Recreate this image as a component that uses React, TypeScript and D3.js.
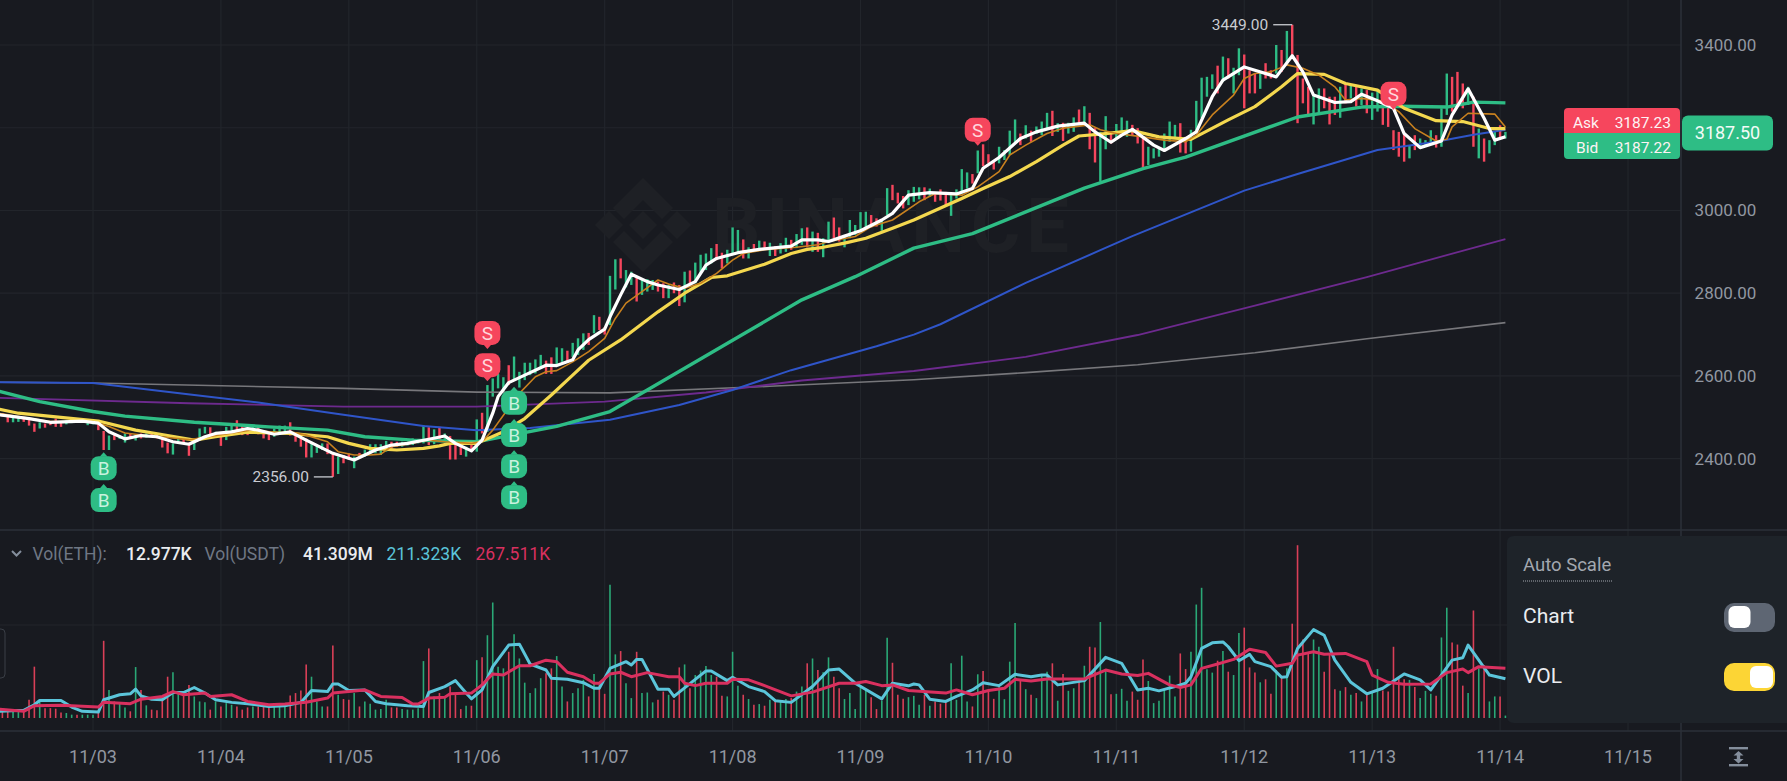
import { useEffect, useRef } from 'react';
import * as d3 from 'd3';

const WIDTH = 1787;
const HEIGHT = 781;
const FONT = 'Roboto, sans-serif';

const bg = '#181a20';
const gridColor = '#22252b';
const up = '#2ebd85';
const down = '#f6465d';

const priceTicks = [2400, 2600, 2800, 3000, 3200, 3400];
const dayLabels = ['11/03', '11/04', '11/05', '11/06', '11/07', '11/08', '11/09', '11/10', '11/11', '11/12', '11/13', '11/14', '11/15'];

// one bar per hour, hour 0 = 11/03 00:00, first bar is hour -17
const firstHour = -17;
const barHigh = [
  2510,2504,2502,2499,2498,2496,2485,2488,2485,2489,
  2497,2488,2493,2496,2496,2496,2489,2491,2485,2467,
  2456,2461,2457,2461,2461,2459,2461,2461,2463,2459,
  2449,2439,2437,2453,2451,2439,2445,2473,2477,2476,
  2465,2453,2477,2485,2493,2480,2473,2481,2480,2469,
  2465,2473,2480,2480,2488,2464,2457,2449,2441,2433,
  2437,2437,2411,2405,2409,2413,2405,2414,2422,2435,
  2435,2435,2443,2441,2441,2441,2441,2449,2445,2481,
  2476,2471,2477,2461,2455,2437,2433,2429,2437,2495,
  2511,2578,2594,2606,2597,2626,2647,2610,2632,2632,
  2640,2651,2637,2645,2669,2667,2661,2680,2691,2703,
  2704,2747,2743,2718,2842,2882,2884,2856,2852,2840,
  2834,2834,2832,2828,2824,2820,2826,2820,2852,2855,
  2874,2893,2896,2909,2919,2898,2905,2959,2953,2930,
  2911,2919,2927,2925,2922,2914,2921,2934,2929,2943,
  2957,2959,2949,2946,2933,2973,2983,2959,2941,2977,
  2965,2996,2997,2989,2981,2977,3054,3062,3043,3035,
  3049,3057,3056,3056,3053,3045,3051,3045,3041,3051,
  3100,3092,3088,3145,3160,3136,3122,3154,3146,3193,
  3220,3186,3206,3193,3203,3215,3236,3241,3211,3212,
  3212,3225,3244,3252,3236,3199,3190,3228,3190,3209,
  3225,3217,3207,3199,3180,3154,3150,3150,3186,3215,
  3207,3211,3178,3195,3265,3321,3323,3329,3350,3372,
  3368,3345,3392,3377,3339,3331,3335,3356,3339,3400,
  3388,3434,3449,3376,3319,3299,3279,3295,3295,3275,
  3275,3299,3307,3303,3299,3295,3291,3285,3291,3255,
  3251,3194,3190,3186,3158,3182,3174,3170,3194,3182,
  3247,3331,3323,3335,3307,3299,3275,3198,3174,3170,
  3190,3206,3190,
];
const barLow = [
  2502,2488,2488,2489,2489,2480,2465,2473,2475,2481,
  2477,2477,2483,2486,2488,2488,2481,2483,2469,2421,
  2421,2445,2448,2439,2449,2444,2449,2451,2453,2449,
  2427,2413,2410,2441,2437,2407,2421,2449,2461,2457,
  2453,2431,2445,2461,2469,2457,2457,2461,2459,2449,
  2445,2453,2459,2461,2456,2441,2429,2403,2403,2414,
  2421,2411,2356,2363,2389,2397,2377,2401,2405,2411,
  2413,2409,2417,2425,2429,2429,2432,2433,2437,2437,
  2433,2435,2441,2441,2398,2398,2409,2405,2417,2417,
  2461,2465,2550,2570,2558,2578,2590,2572,2590,2602,
  2606,2618,2605,2605,2624,2634,2632,2646,2651,2663,
  2675,2703,2711,2700,2723,2809,2836,2814,2820,2780,
  2796,2804,2808,2804,2788,2788,2800,2769,2778,2824,
  2824,2848,2856,2872,2880,2860,2872,2896,2896,2884,
  2884,2905,2905,2905,2890,2890,2896,2900,2905,2909,
  2917,2911,2900,2900,2887,2925,2933,2925,2911,2933,
  2941,2953,2959,2959,2961,2951,2989,3025,3017,3005,
  3013,3021,3027,3025,3033,3021,3024,3013,2987,3029,
  3041,3053,3065,3090,3107,3114,3099,3114,3122,3134,
  3162,3158,3174,3166,3185,3182,3194,3180,3190,3168,
  3186,3190,3207,3211,3148,3116,3070,3148,3162,3172,
  3190,3178,3182,3162,3104,3110,3126,3130,3150,3166,
  3174,3140,3138,3142,3190,3223,3275,3294,3283,3311,
  3319,3283,3327,3247,3283,3283,3294,3319,3319,3331,
  3335,3352,3376,3211,3259,3231,3208,3231,3247,3208,
  3231,3224,3259,3271,3251,3255,3235,3219,3239,3207,
  3202,3146,3130,3118,3126,3146,3150,3154,3162,3152,
  3154,3231,3239,3255,3247,3255,3154,3126,3118,3138,
  3158,3174,3174,
];
// u = green, d = red
const barDir = [
  'dduudddudd','dduuduuudd','uduudududd','dduudduuud',
  'uduudddudd','duuudddduu','uddudduduu','uuudduuuuu',
  'dududddudu','duuuuduuuu','uudduuduuu','dudduuduud',
  'uuudduddud','uuuudduuud','udududuudu','ududuudduu',
  'uuudduuddd','uuududdduu','uududdduuu','ududuuudud',
  'uududduudu','uuddduuuuu','udduuuuudu','duuddduddu',
  'dudddduudd','dudududuud','dddduduuud','uudddududu','udu',
].join('');
// thousands
const barVolume = [
  36,45,36,36,41,98,276,89,53,53,
  50,30,27,18,18,18,18,18,27,415,
  151,89,84,57,36,274,151,68,45,41,
  116,222,246,134,119,178,116,89,85,45,
  89,62,80,71,62,45,57,62,62,66,
  58,62,60,64,121,134,148,288,222,89,
  62,62,390,125,102,98,134,62,89,77,
  45,48,98,57,57,48,45,45,53,306,
  374,116,134,116,169,125,48,66,66,311,
  326,445,621,276,267,356,450,320,190,134,
  160,214,240,267,333,169,89,134,160,205,
  116,237,180,130,716,342,360,187,107,356,
  134,137,84,98,142,125,98,272,288,160,
  231,255,280,231,222,119,116,356,174,125,
  102,71,75,66,98,89,89,102,107,142,
  169,294,320,258,246,326,222,160,102,134,
  48,169,151,112,48,93,431,297,125,103,
  112,119,71,125,66,89,77,89,294,98,
  335,89,62,235,253,151,103,178,101,303,
  511,205,155,125,107,231,249,294,93,237,
  146,160,205,281,383,379,516,258,128,130,
  157,93,142,98,315,199,80,93,151,228,
  116,347,263,356,610,700,262,244,308,360,
  249,231,457,486,272,244,192,208,130,258,
  222,267,507,929,422,347,422,383,249,347,
  155,146,166,125,134,89,130,134,263,148,
  142,383,214,208,205,166,107,146,130,119,
  433,593,406,395,174,134,578,267,285,89,
  116,116,13,
];

type Pt = [number, number];

const maWhite: Pt[] = [[-18,2507],[-12,2497],[-8,2488],[-2,2491],[1,2486],[3,2465],[6,2448],[9,2456],[12,2453],[15,2441],[18,2435],[21,2453],[23,2461],[26,2465],[29,2473],[31,2469],[34,2459],[37,2465],[40,2445],[45,2413],[49,2397],[53,2421],[56,2433],[59,2437],[63,2447],[66,2455],[68,2437],[71,2419],[73,2445],[75,2510],[76,2550],[78,2584],[81,2602],[85,2626],[87,2625],[90,2639],[91,2663],[93,2688],[96,2713],[97,2743],[99,2796],[101,2846],[104,2828],[106,2820],[110,2809],[113,2828],[115,2868],[117,2884],[121,2898],[125,2906],[131,2914],[133,2929],[136,2929],[138,2925],[141,2938],[144,2951],[148,2977],[150,2993],[153,3037],[157,3043],[162,3040],[165,3053],[167,3102],[170,3128],[174,3174],[177,3190],[181,3204],[186,3211],[188,3190],[191,3165],[193,3182],[195,3196],[199,3158],[201,3145],[205,3174],[207,3190],[210,3275],[212,3315],[216,3347],[218,3339],[222,3323],[225,3374],[227,3335],[229,3279],[233,3261],[236,3263],[238,3281],[241,3265],[244,3247],[246,3186],[249,3152],[253,3168],[255,3231],[258,3294],[261,3223],[263,3170],[265,3178]];
const maOrange: Pt[] = [[-18,2510],[-8,2490],[0,2490],[3,2478],[6,2462],[10,2456],[15,2450],[18,2446],[21,2452],[25,2460],[30,2470],[35,2462],[37,2465],[40,2457],[44,2441],[46,2417],[49,2409],[52,2409],[54,2411],[56,2429],[59,2435],[63,2445],[66,2441],[71,2437],[73,2441],[75,2469],[77,2505],[80,2558],[83,2598],[85,2610],[87,2613],[90,2634],[93,2659],[96,2691],[98,2739],[100,2776],[103,2804],[106,2832],[108,2822],[111,2812],[114,2824],[117,2848],[120,2880],[122,2896],[126,2905],[132,2911],[136,2917],[138,2925],[143,2937],[146,2961],[150,2977],[155,3021],[158,3041],[163,3037],[166,3057],[170,3094],[172,3134],[175,3158],[179,3186],[182,3199],[187,3207],[189,3195],[192,3186],[197,3178],[201,3170],[205,3166],[207,3182],[210,3231],[214,3279],[216,3319],[218,3331],[221,3335],[224,3352],[227,3344],[230,3327],[233,3299],[235,3267],[238,3271],[242,3265],[245,3239],[248,3198],[252,3168],[254,3172],[255,3202],[258,3235],[263,3233],[265,3202]];
const maYellow: Pt[] = [[-18,2521],[-14,2510],[1,2491],[8,2469],[14,2456],[19,2445],[23,2453],[29,2464],[37,2461],[44,2453],[48,2437],[52,2425],[57,2421],[62,2425],[65,2431],[67,2437],[72,2437],[77,2465],[81,2497],[86,2554],[90,2602],[93,2638],[99,2687],[106,2755],[111,2800],[116,2838],[119,2842],[126,2870],[131,2896],[134,2906],[137,2911],[141,2921],[145,2933],[150,2957],[154,2977],[163,3029],[167,3053],[172,3082],[177,3118],[182,3158],[185,3180],[190,3186],[195,3193],[200,3178],[206,3172],[213,3219],[218,3251],[223,3299],[226,3331],[231,3329],[235,3307],[241,3291],[246,3247],[252,3217],[257,3215],[262,3198],[265,3198]];
const maGreen: Pt[] = [[-18,2564],[-10,2538],[0,2514],[6,2503],[19,2488],[33,2477],[44,2469],[51,2453],[60,2445],[72,2441],[87,2478],[97,2514],[104,2566],[118,2671],[133,2784],[143,2840],[154,2909],[165,2944],[186,3054],[197,3101],[205,3129],[226,3226],[238,3250],[245,3252],[254,3250],[259,3262],[265,3260]];
const maBlue: Pt[] = [[-18,2585],[0,2583],[19,2554],[31,2536],[47,2506],[62,2479],[72,2469],[82,2474],[97,2494],[110,2530],[120,2566],[131,2614],[147,2672],[154,2700],[159,2725],[175,2825],[189,2904],[195,2938],[216,3048],[226,3088],[241,3146],[252,3166],[259,3183],[265,3195]];
const maPurple: Pt[] = [[-18,2547],[18,2534],[47,2526],[72,2526],[96,2538],[115,2560],[133,2589],[154,2612],[175,2646],[196,2699],[218,2770],[239,2839],[265,2931]];
const maGrey: Pt[] = [[-18,2585],[0,2583],[47,2570],[72,2561],[97,2559],[127,2575],[154,2591],[175,2608],[196,2627],[218,2656],[239,2690],[265,2729]];

const volMaCyan: Pt[] = [[-18,36],[-13,41],[-11,71],[-10,94],[-6,94],[-4,59],[-2,36],[1,32],[2,98],[5,125],[7,130],[8,155],[9,119],[11,101],[13,98],[15,137],[17,137],[19,164],[21,134],[23,98],[26,84],[29,77],[33,62],[36,66],[39,84],[41,148],[44,142],[45,183],[46,183],[48,148],[51,151],[53,89],[55,77],[59,66],[62,62],[63,137],[66,169],[68,201],[70,134],[71,103],[73,151],[75,276],[78,392],[80,397],[82,290],[85,258],[86,214],[89,208],[92,190],[94,160],[95,160],[97,267],[100,303],[101,285],[102,315],[103,315],[106,155],[108,155],[109,116],[115,253],[116,253],[119,201],[120,219],[123,169],[126,142],[128,93],[131,84],[135,169],[138,258],[140,263],[143,187],[148,103],[150,187],[153,173],[154,183],[155,178],[157,101],[160,89],[162,116],[165,151],[167,190],[170,174],[173,235],[176,222],[178,231],[179,231],[181,178],[186,201],[190,326],[193,294],[196,151],[198,160],[200,146],[203,169],[205,187],[206,222],[208,374],[210,404],[212,409],[213,383],[215,308],[217,342],[218,303],[221,276],[223,219],[224,222],[226,374],[229,475],[231,445],[233,311],[236,192],[239,130],[242,160],[246,237],[249,205],[251,151],[255,311],[257,324],[258,392],[262,231],[265,211]];
const volMaPink: Pt[] = [[-18,48],[-13,36],[-11,66],[-6,68],[1,59],[2,85],[7,77],[9,101],[13,116],[15,142],[17,125],[21,134],[22,116],[26,125],[29,89],[33,71],[36,75],[40,85],[44,107],[45,134],[51,151],[54,116],[58,110],[60,75],[61,75],[63,107],[66,112],[67,130],[71,134],[73,178],[75,237],[77,231],[80,281],[82,281],[85,311],[87,303],[89,246],[92,222],[94,187],[95,187],[97,237],[99,246],[101,222],[104,244],[108,222],[110,222],[111,187],[113,174],[115,187],[119,187],[120,208],[123,205],[126,174],[131,119],[135,139],[140,187],[143,187],[145,196],[148,174],[150,178],[153,148],[160,134],[162,151],[165,125],[168,148],[171,160],[173,208],[176,199],[179,210],[186,210],[190,258],[193,237],[196,228],[198,240],[202,178],[204,164],[206,178],[208,267],[211,290],[214,315],[217,370],[220,352],[222,279],[225,294],[226,338],[229,356],[231,343],[235,347],[239,303],[240,231],[243,192],[246,181],[251,183],[254,244],[257,263],[258,244],[260,276],[265,268]];

const priceLines = [
  { pts: maGrey, color: '#77777b', w: 1.6 },
  { pts: maPurple, color: '#6d2a8e', w: 1.8 },
  { pts: maBlue, color: '#2f55c9', w: 2 },
  { pts: maGreen, color: '#2ebd85', w: 3.4 },
  { pts: maYellow, color: '#f4d84f', w: 3.2 },
  { pts: maOrange, color: '#c8811f', w: 1.6 },
  { pts: maWhite, color: '#ffffff', w: 3.2 },
];

const buyMarks = [[2, 2377], [2, 2300], [79, 2535], [79, 2457], [79, 2382], [79, 2307]];
const sellMarks = [[74, 2704], [74, 2626], [166, 3195], [244, 3282]];

function App() {
  const svgRef = useRef<SVGSVGElement>(null);

  useEffect(() => {
    if (svgRef.current === null) return;
    const svg = d3.select(svgRef.current);
    svg.selectAll('*').remove();

    const x = d3.scaleLinear().domain([0, 288]).range([93, 1628]);
    const y = d3.scaleLinear().domain([2400, 3400]).range([458.7, 45]);
    const yVol = d3.scaleLinear().domain([0, 500]).range([718, 625]);

    svg.append('rect').attr('width', WIDTH).attr('height', HEIGHT).attr('fill', bg);

    // grid
    const grid = svg.append('g').attr('stroke', gridColor).attr('stroke-width', 1.2);
    priceTicks.forEach((p) => {
      grid.append('line').attr('x1', 0).attr('x2', 1681).attr('y1', y(p)).attr('y2', y(p));
    });
    grid.append('line').attr('x1', 0).attr('x2', 1681).attr('y1', yVol(500)).attr('y2', yVol(500));
    dayLabels.forEach((_, i) => {
      const gx = x(i * 24);
      grid.append('line').attr('x1', gx).attr('x2', gx).attr('y1', 0).attr('y2', 731);
    });

    // watermark
    const wm = svg.append('g').attr('fill', '#1e2025');
    const cx = 643;
    const cy = 225;
    const diamond = (dx: number, dy: number, r: number) =>
      `M${cx + dx - r},${cy + dy}L${cx + dx},${cy + dy - r}L${cx + dx + r},${cy + dy}L${cx + dx},${cy + dy + r}Z`;
    wm.append('path').attr('d', diamond(0, 0, 14));
    wm.append('path').attr('d', diamond(-34, 0, 14));
    wm.append('path').attr('d', diamond(34, 0, 14));
    wm.append('path').attr('d', `M${cx},${cy - 47}L${cx + 30},${cy - 17}L${cx + 19},${cy - 6}L${cx},${cy - 25}L${cx - 19},${cy - 6}L${cx - 30},${cy - 17}Z`);
    wm.append('path').attr('d', `M${cx},${cy + 47}L${cx + 30},${cy + 17}L${cx + 19},${cy + 6}L${cx},${cy + 25}L${cx - 19},${cy + 6}L${cx - 30},${cy + 17}Z`);
    wm.append('text').attr('x', 712).attr('y', 252).attr('font-family', FONT).attr('font-weight', 700)
      .attr('font-size', 76).attr('textLength', 357).text('BINANCE');

    // pane borders
    svg.append('line').attr('x1', 0).attr('x2', 1787).attr('y1', 530).attr('y2', 530).attr('stroke', '#2b3139').attr('stroke-width', 1.5);
    svg.append('line').attr('x1', 0).attr('x2', 1787).attr('y1', 731).attr('y2', 731).attr('stroke', '#2b3139').attr('stroke-width', 1.5);
    svg.append('line').attr('x1', 1681).attr('x2', 1681).attr('y1', 0).attr('y2', 781).attr('stroke', '#2b3139').attr('stroke-width', 1.5);

    // price bars
    const hours = barHigh.map((_, i) => firstHour + i);
    svg.append('g').selectAll('line').data(hours).join('line')
      .attr('x1', (h) => x(h)).attr('x2', (h) => x(h))
      .attr('y1', (_, i) => y(barHigh[i])).attr('y2', (_, i) => y(barLow[i]))
      .attr('stroke-width', 2.4)
      .attr('stroke', (_, i) => (barDir[i] === 'u' ? up : down));

    // volume bars
    svg.append('g').selectAll('line').data(hours).join('line')
      .attr('x1', (h) => x(h)).attr('x2', (h) => x(h))
      .attr('y1', (_, i) => yVol(barVolume[i])).attr('y2', yVol(0))
      .attr('stroke-width', 1.6)
      .attr('stroke', (_, i) => (barDir[i] === 'u' ? '#2aa876' : '#d93f57'));

    const priceLine = d3.line<Pt>().x((d) => x(d[0])).y((d) => y(d[1]));
    priceLines.forEach(({ pts, color, w }) => {
      svg.append('path').attr('d', priceLine(pts)).attr('fill', 'none').attr('stroke', color)
        .attr('stroke-width', w).attr('stroke-linejoin', 'round');
    });

    const volLine = d3.line<Pt>().x((d) => x(d[0])).y((d) => yVol(d[1]));
    svg.append('path').attr('d', volLine(volMaCyan)).attr('fill', 'none').attr('stroke', '#5bc5da').attr('stroke-width', 3).attr('stroke-linejoin', 'round');
    svg.append('path').attr('d', volLine(volMaPink)).attr('fill', 'none').attr('stroke', '#d9305f').attr('stroke-width', 3).attr('stroke-linejoin', 'round');

    // buy / sell markers
    const marker = (h: number, p: number, label: string) => {
      const mx = x(h);
      const my = y(p);
      const buy = label === 'B';
      const g = svg.append('g').attr('transform', `translate(${mx},${my})`);
      g.append('rect').attr('x', -13).attr('y', -12).attr('width', 26).attr('height', 24).attr('rx', 8)
        .attr('fill', buy ? up : down);
      g.append('path').attr('d', buy ? 'M-4,-11.5L0,-16L4,-11.5Z' : 'M-4,11.5L0,16L4,11.5Z').attr('fill', buy ? up : down);
      g.append('text').attr('text-anchor', 'middle').attr('y', 7).attr('font-family', FONT).attr('font-size', 19)
        .attr('fill', buy ? '#c9f2df' : '#ffd6dc').text(label);
    };
    buyMarks.forEach(([h, p]) => marker(h, p, 'B'));
    sellMarks.forEach(([h, p]) => marker(h, p, 'S'));

    // high / low tags
    const extreme = (h: number, p: number, label: string) => {
      const ex = x(h);
      const ey = y(p);
      svg.append('line').attr('x1', ex - 19).attr('x2', ex).attr('y1', ey).attr('y2', ey).attr('stroke', '#c9ccd2').attr('stroke-width', 1.3);
      svg.append('text').attr('x', ex - 24).attr('y', ey + 5.5).attr('text-anchor', 'end').attr('font-family', FONT)
        .attr('font-size', 15.5).attr('fill', '#c9ccd2').text(label);
    };
    extreme(45, 2356, '2356.00');
    extreme(225, 3449, '3449.00');

    // price axis labels
    priceTicks.forEach((p) => {
      svg.append('text').attr('x', 1725.5).attr('y', y(p) + 6).attr('text-anchor', 'middle').attr('font-family', FONT)
        .attr('font-size', 17).attr('fill', '#9197a1').text(d3.format('.2f')(p));
    });

    // time axis labels
    dayLabels.forEach((d, i) => {
      svg.append('text').attr('x', x(i * 24)).attr('y', 763).attr('text-anchor', 'middle').attr('font-family', FONT)
        .attr('font-size', 18).attr('fill', '#9197a1').text(d);
    });

    // volume legend
    svg.append('path').attr('d', 'M12,551L16.5,555.5L21,551').attr('fill', 'none').attr('stroke', '#848e9c').attr('stroke-width', 2);
    const legend = [
      { t: 'Vol(ETH):', lx: 32.5, c: '#6f7784', w: 400 },
      { t: '12.977K', lx: 126, c: '#eaecef', w: 500 },
      { t: 'Vol(USDT)', lx: 204.5, c: '#6f7784', w: 400 },
      { t: '41.309M', lx: 303, c: '#eaecef', w: 500 },
      { t: '211.323K', lx: 386.5, c: '#5bc5da', w: 400 },
      { t: '267.511K', lx: 475.5, c: '#d9305f', w: 400 },
    ];
    legend.forEach(({ t, lx, c, w }) => {
      svg.append('text').attr('x', lx).attr('y', 559.5).attr('font-family', FONT).attr('font-size', 17.5)
        .attr('font-weight', w).attr('fill', c).text(t);
    });

    // left tab
    svg.append('path').attr('d', 'M0,629H1Q5,629 5,633V674Q5,678 1,678H0').attr('fill', 'none').attr('stroke', '#3a3e46');

    // ask / bid box
    const priceY = y(3187.5);
    svg.append('path').attr('d', 'M1564,133V112Q1564,108 1568,108H1676Q1680,108 1680,112V133Z').attr('fill', down);
    svg.append('path').attr('d', 'M1564,133V155Q1564,159 1568,159H1676Q1680,159 1680,155V133Z').attr('fill', up);
    const boxText = (tx: number, ty: number, t: string, anchor: string) => {
      svg.append('text').attr('x', tx).attr('y', ty).attr('text-anchor', anchor).attr('font-family', FONT)
        .attr('font-size', 15.5).attr('fill', '#fdf3f4').text(t);
    };
    boxText(1573, 128, 'Ask', 'start');
    boxText(1671, 128, '3187.23', 'end');
    boxText(1576, 153, 'Bid', 'start');
    boxText(1671, 153, '3187.22', 'end');
    svg.append('rect').attr('x', 1682).attr('y', priceY - 17.5).attr('width', 91).attr('height', 35).attr('rx', 6).attr('fill', up);
    svg.append('text').attr('x', 1727.5).attr('y', priceY + 6.5).attr('text-anchor', 'middle').attr('font-family', FONT)
      .attr('font-size', 18).attr('fill', '#f2fbf7').text('3187.50');

    // auto scale panel
    svg.append('path').attr('d', 'M1787,536H1514Q1507,536 1507,543V716Q1507,723 1514,723H1787Z').attr('fill', '#1e2329');
    svg.append('text').attr('x', 1523).attr('y', 571).attr('font-family', FONT).attr('font-size', 18.5).attr('fill', '#a3a8b0').text('Auto Scale');
    svg.append('line').attr('x1', 1523).attr('x2', 1613).attr('y1', 581).attr('y2', 581).attr('stroke', '#a3a8b0').attr('stroke-dasharray', '1 1');
    svg.append('text').attr('x', 1523).attr('y', 623).attr('font-family', FONT).attr('font-size', 21).attr('fill', '#eaecef').text('Chart');
    svg.append('text').attr('x', 1523).attr('y', 683).attr('font-family', FONT).attr('font-size', 21).attr('fill', '#eaecef').text('VOL');
    svg.append('rect').attr('x', 1724).attr('y', 603).attr('width', 51).attr('height', 29).attr('rx', 10).attr('fill', '#5e6673');
    svg.append('rect').attr('x', 1728.5).attr('y', 606).attr('width', 22).attr('height', 22).attr('rx', 6).attr('fill', '#fff');
    svg.append('rect').attr('x', 1724).attr('y', 663).attr('width', 51).attr('height', 28).attr('rx', 10).attr('fill', '#fcd535');
    svg.append('rect').attr('x', 1750).attr('y', 666).attr('width', 23).attr('height', 22).attr('rx', 6).attr('fill', '#fff');

    // fit icon
    const icon = svg.append('g').attr('fill', '#848e9c');
    icon.append('rect').attr('x', 1729).attr('y', 747).attr('width', 19).attr('height', 2.4);
    icon.append('rect').attr('x', 1729).attr('y', 764).attr('width', 19).attr('height', 2.4);
    icon.append('path').attr('d', 'M1738.5,751L1743.5,755.5H1740.2V759H1743.5L1738.5,763.5L1733.5,759H1736.8V755.5H1733.5Z');
  }, []);

  return <svg ref={svgRef} width={WIDTH} height={HEIGHT} style={{ position: 'absolute', left: 0, top: 0, display: 'block' }} />;
}

export default App;
